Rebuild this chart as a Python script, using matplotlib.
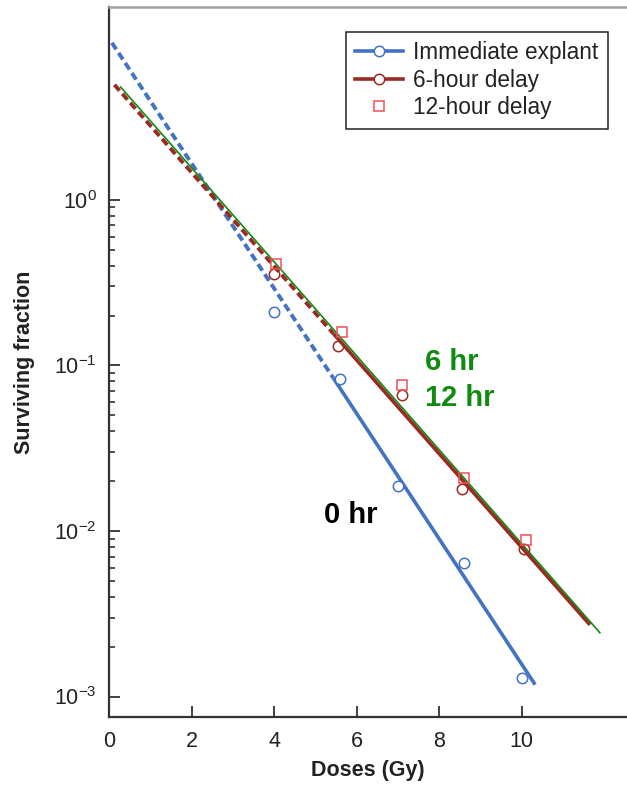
import matplotlib
matplotlib.use("Agg")
import matplotlib.pyplot as plt
from matplotlib.lines import Line2D
from matplotlib.ticker import FixedLocator

plt.rcParams['font.family'] = ['Liberation Sans', 'DejaVu Sans']
plt.rcParams['mathtext.fontset'] = 'custom'
plt.rcParams['mathtext.rm'] = 'Liberation Sans'

# measured points
dose_imm = [4.0, 5.6, 7.0, 8.6, 10.0]
surv_imm = [0.21, 0.083, 0.0188, 0.0064, 0.0013]
dose_6h = [4.0, 5.55, 7.1, 8.55, 10.05]
surv_6h = [0.357, 0.13, 0.066, 0.018, 0.0078]
dose_12h = [4.05, 5.65, 7.1, 8.6, 10.1]
surv_12h = [0.41, 0.158, 0.076, 0.021, 0.0088]

# fitted lines (endpoints)
fit_imm_dash_x = [0.06, 5.43]
fit_imm_dash_y = [8.87, 0.084]
fit_imm_x = [5.43, 10.33]
fit_imm_y = [0.084, 0.00118]
fit_6h_dash_x = [0.12, 5.43]
fit_6h_dash_y = [4.95, 0.156]
fit_6h_x = [5.43, 11.66]
fit_6h_y = [0.156, 0.00271]
fit_12h_x = [0.27, 11.9]
fit_12h_y = [4.8, 0.00243]

y_major = [1e-3, 1e-2, 1e-1, 1]
x_major = [0, 2, 4, 6, 8, 10]

c_blue = '#4472c4'
c_brown = '#9b2a22'
c_red = '#f0505a'
c_green = '#108a10'

fig = plt.figure(figsize=(6.27, 7.85), dpi=100)
ax = fig.add_axes([0.1746, 0.0866, 0.8254, 0.9045])

dash = (0, (2.0, 1.1))
ax.plot(fit_imm_dash_x, fit_imm_dash_y, color=c_blue, lw=2.8, ls=dash)
ax.plot(fit_imm_x, fit_imm_y, color=c_blue, lw=2.6, solid_capstyle='butt')
ax.plot(fit_6h_dash_x, fit_6h_dash_y, color=c_brown, lw=2.8, ls=dash)
ax.plot(fit_6h_x, fit_6h_y, color=c_brown, lw=2.6, solid_capstyle='butt')
ax.plot(fit_12h_x, fit_12h_y, color=c_green, lw=1.2)

ax.plot(dose_imm, surv_imm, 'o', ms=7.5, mfc='white', mec=c_blue, mew=1.1)
ax.plot(dose_6h, surv_6h, 'o', ms=7.5, mfc='none', mec=c_brown, mew=1.1)
ax.plot(dose_12h, surv_12h, 's', ms=7, mfc='none', mec=c_red, mew=1.1)

ax.text(5.86, 0.0124, '0 hr', fontsize=21, fontweight='bold', color='black',
        ha='center', va='center')
ax.text(7.66, 0.105, '6 hr', fontsize=21, fontweight='bold', color=c_green,
        ha='left', va='center')
ax.text(7.66, 0.0637, '12 hr', fontsize=21, fontweight='bold', color=c_green,
        ha='left', va='center')

ax.set_yscale('log')
ax.set_xlim(0, 12.56)
ax.set_ylim(7.52e-4, 14.6)
ax.set_xticks(x_major)
ax.yaxis.set_major_locator(FixedLocator(y_major))
ax.yaxis.set_minor_locator(FixedLocator([m * d for d in y_major[:-1] for m in range(2, 10)]))

ax.tick_params(axis='both', which='both', direction='in', colors='#333333',
               labelcolor='#222222', labelsize=15.5)
ax.tick_params(axis='x', which='major', length=8, width=1.3, pad=10)
ax.tick_params(axis='y', which='major', length=8, width=1.3, pad=9)
ax.tick_params(axis='y', which='minor', length=4.5, width=1.2)

for s in ['left', 'bottom']:
    ax.spines[s].set_color('#333333')
    ax.spines[s].set_linewidth(1.6)
ax.spines['top'].set_color('#a0a0a0')
ax.spines['top'].set_linewidth(1.8)
ax.spines['right'].set_visible(False)

ax.set_xlabel('Doses (Gy)', fontsize=15.5, fontweight='bold', color='#222222', labelpad=6)
ax.set_ylabel('Surviving fraction', fontsize=15.5, fontweight='bold', color='#222222', labelpad=14)

handles = [
    Line2D([], [], color=c_blue, lw=2.6, marker='o', ms=7.5, mfc='white', mec=c_blue, mew=1.1),
    Line2D([], [], color=c_brown, lw=2.6, marker='o', ms=7.5, mfc='white', mec=c_brown, mew=1.1),
    Line2D([], [], ls='none', marker='s', ms=7, mfc='none', mec=c_red, mew=1.1),
]
labels = ['Immediate explant', '6-hour delay', '12-hour delay']
leg = ax.legend(handles, labels, loc='upper right', bbox_to_anchor=(0.963, 0.965),
                borderaxespad=0, fontsize=16.3, fancybox=False, framealpha=1,
                edgecolor='#222222', handlelength=2.1, handletextpad=0.45,
                labelspacing=0.2, borderpad=0.42)
leg.get_frame().set_linewidth(1.1)
for t in leg.get_texts():
    t.set_color('#222222')

fig.savefig('out.png', dpi=100)
